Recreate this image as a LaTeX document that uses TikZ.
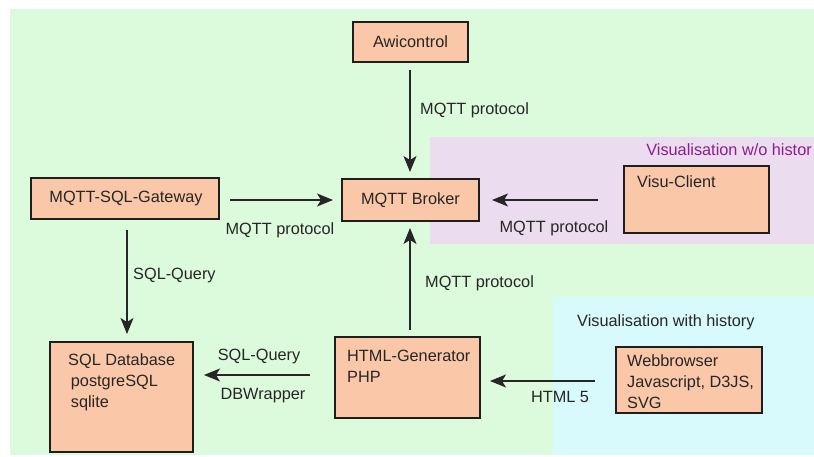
\documentclass[tikz,border=0pt]{standalone}
\usepackage{fontspec}
\setmainfont{Liberation Sans}
\usetikzlibrary{arrows.meta}
\definecolor{bggreen}{RGB}{220,250,220}
\definecolor{bgpurple}{RGB}{236,220,240}
\definecolor{bgcyan}{RGB}{216,250,252}
\definecolor{boxfill}{RGB}{250,200,168}
\definecolor{purpletext}{RGB}{140,30,140}
\definecolor{boxline}{RGB}{30,30,30}
\tikzset{
  box/.style={draw=boxline, line width=1.6pt, fill=boxfill},
  lbl/.style={font=\fontsize{16.3}{19}\selectfont, inner sep=0pt, text=black!85},
  conn/.style={line width=1.3pt, draw=black!85, -{Stealth[length=16pt,width=13pt,inset=4pt]}},
}
\begin{document}
\begin{tikzpicture}[x=1pt,y=-1pt]
\useasboundingbox (0,0) rectangle (814,457);
\fill[white] (0,0) rectangle (814,457);
\fill[bggreen] (10,9) rectangle (814,455);
\fill[bgpurple] (430,137) rectangle (814,244);
\fill[bgcyan] (553,297) rectangle (814,455);
\node[lbl, text=purpletext, anchor=east] (t1) at (812,150) {Visualisation w/o histor};
\node[lbl, anchor=west] (t2) at (577,322) {Visualisation with history};

% boxes
\draw[box] (353,22) rectangle (468,62);
\node[lbl] (awi) at (410.5,42) {Awicontrol};
\coordinate (awiB) at (410,70);
\draw[box] (342,179) rectangle (479,221);
\node[lbl] (broker) at (410.5,200) {MQTT Broker};
\coordinate (brT) at (410,172);
\coordinate (brB) at (410,228);
\coordinate (brL) at (333,200);
\coordinate (brR) at (492,200);
\draw[box] (31,178) rectangle (219,219);
\node[lbl] (gw) at (126,199) {MQTT-SQL-Gateway};
\coordinate (gwR) at (230,200);
\coordinate (gwB) at (127,230);
\draw[box] (624,166) rectangle (769,233);
\node[lbl, anchor=north west] (visu) at (637,175) {Visu-Client};
\coordinate (visuL) at (598,200);
\draw[box] (50,342) rectangle (193,452);
\node[lbl, anchor=north west, align=left] (db) at (68,353) {SQL Database\\[2pt]\,postgreSQL\\[2pt]\,sqlite};
\coordinate (dbT) at (127,334);
\coordinate (dbR) at (204,375);
\draw[box] (335,337) rectangle (480,418);
\node[lbl, anchor=north west, align=left] (html) at (347,350) {HTML-Generator\\[2pt]PHP};
\coordinate (htT) at (410,330);
\coordinate (htL) at (310,375);
\coordinate (htR) at (490,381);
\draw[box] (616,347) rectangle (762,413);
\node[lbl, anchor=north west, align=left] (web) at (627,354) {Webbrowser\\[2pt]Javascript, D3JS,\\[2pt]SVG};
\coordinate (webL) at (595,381);

% connectors
\draw[conn] (awiB) -- (brT);
\node[lbl, anchor=west] (l1) at (420,110) {MQTT protocol};
\draw[conn] (gwR) -- (brL);
\node[lbl] (l2) at (280,230) {MQTT protocol};
\draw[conn] (visuL) -- (brR);
\node[lbl] (l3) at (554,228) {MQTT protocol};
\draw[conn] (htT) -- (brB);
\node[lbl, anchor=west] (l4) at (425,283) {MQTT protocol};
\draw[conn] (gwB) -- (dbT);
\node[lbl, anchor=west] (l5) at (133,276) {SQL-Query};
\draw[conn] (htL) -- (dbR);
\node[lbl] (l6) at (259,356) {SQL-Query};
\node[lbl] (l7) at (263,396) {DBWrapper};
\draw[conn] (webL) -- (htR);
\node[lbl] (l8) at (560,397) {HTML 5};
\end{tikzpicture}
\end{document}
